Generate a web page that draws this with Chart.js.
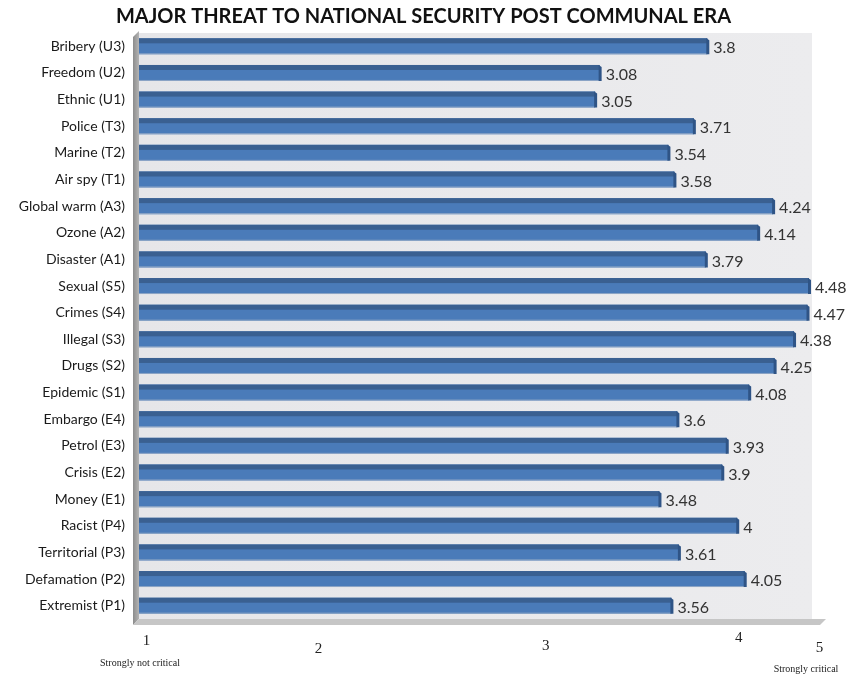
<!DOCTYPE html>
<html>
<head>
<meta charset="utf-8">
<script src="https://cdn.jsdelivr.net/npm/chart.js@4"></script>
<style>
  body { margin: 0; background: #fff; }
  #wrap { width: 847px; height: 681px; }
</style>
</head>
<body>
<div id="wrap"><canvas id="myChart" width="847" height="681"></canvas></div>
<script>
var categories = ['Bribery (U3)', 'Freedom (U2)', 'Ethnic (U1)', 'Police (T3)', 'Marine (T2)', 'Air spy (T1)',
    'Global warm (A3)', 'Ozone (A2)', 'Disaster (A1)', 'Sexual (S5)', 'Crimes (S4)', 'Illegal (S3)',
    'Drugs (S2)', 'Epidemic (S1)', 'Embargo (E4)', 'Petrol (E3)', 'Crisis (E2)', 'Money (E1)',
    'Racist (P4)', 'Territorial (P3)', 'Defamation (P2)', 'Extremist (P1)'];
var meanScores = [3.8, 3.08, 3.05, 3.71, 3.54, 3.58, 4.24, 4.14, 3.79, 4.48, 4.47, 4.38,
    4.25, 4.08, 3.6, 3.93, 3.9, 3.48, 4, 3.61, 4.05, 3.56];
var scaleLabels = ['1', '2', '3', '4', '5'];
var scaleEnds = ['Strongly not critical', 'Strongly critical'];

// where the odd hand-placed scale labels sit (in axis units) and their vertical nudges
var scaleLabelAt = [0.05, 1.2, 2.72, 4.01, 4.55];
var scaleLabelDy = [22, 30, 27, 19, 29];

var panel3d = {
    id: 'panel3d',
    beforeDatasetsDraw: function (chart) {
        var a = chart.chartArea, c = chart.ctx;
        c.save();
        var g = c.createLinearGradient(a.left, 0, a.right, 0);
        g.addColorStop(0, '#e6e6e9');
        g.addColorStop(1, '#ececee');
        c.fillStyle = g;
        c.fillRect(a.left, a.top, a.right - a.left, a.bottom - a.top);
        // left side wall
        var w = c.createLinearGradient(a.left - 6, 0, a.left, 0);
        w.addColorStop(0, '#8c8c8c');
        w.addColorStop(1, '#b4b4b4');
        c.fillStyle = w;
        c.beginPath();
        c.moveTo(a.left, a.top - 2);
        c.lineTo(a.left, a.bottom);
        c.lineTo(a.left - 6, a.bottom + 6);
        c.lineTo(a.left - 6, a.top + 4);
        c.closePath();
        c.fill();
        // floor
        c.fillStyle = '#c6c6c6';
        c.beginPath();
        c.moveTo(a.left, a.bottom);
        c.lineTo(a.right + 14, a.bottom);
        c.lineTo(a.right + 8, a.bottom + 6);
        c.lineTo(a.left - 6, a.bottom + 6);
        c.closePath();
        c.fill();
        c.restore();
    },
    afterDatasetsDraw: function (chart) {
        var c = chart.ctx;
        var meta = chart.getDatasetMeta(0);
        c.save();
        meta.data.forEach(function (bar, i) {
            var top = bar.y - bar.height / 2, bot = bar.y + bar.height / 2;
            c.fillStyle = '#3a6091';
            c.fillRect(bar.base, top, bar.x - bar.base, 5);
            c.fillStyle = '#8ea6c6';
            c.fillRect(bar.base, bot - 1, bar.x - bar.base, 1);
            // end cap
            c.fillStyle = '#2f5486';
            c.beginPath();
            c.moveTo(bar.x - 1, top);
            c.lineTo(bar.x + 2, top + 2);
            c.lineTo(bar.x + 2, bot);
            c.lineTo(bar.x - 1, bot);
            c.closePath();
            c.fill();
            // value label
            c.fillStyle = '#333';
            c.font = '16px Lato';
            c.textAlign = 'left';
            c.textBaseline = 'middle';
            c.fillText(String(meanScores[i]), bar.x + 6, bar.y + 2);
        });
        // hand-placed scale labels
        var x = chart.scales.x, a = chart.chartArea;
        c.fillStyle = '#222';
        c.font = '15px "Liberation Serif"';
        c.textAlign = 'center';
        scaleLabels.forEach(function (t, i) {
            c.fillText(t, x.getPixelForValue(scaleLabelAt[i]), a.bottom + scaleLabelDy[i]);
        });
        c.font = '10px "Liberation Serif"';
        c.fillText(scaleEnds[0], x.getPixelForValue(0) + 1, a.bottom + 44);
        c.fillText(scaleEnds[1], x.getPixelForValue(4.46), a.bottom + 50);
        c.restore();
    }
};

var ctx = document.getElementById('myChart').getContext('2d');
var myChart = new Chart(ctx, {
    type: 'bar',
    data: {
        labels: categories,
        datasets: [{
            data: meanScores,
            backgroundColor: '#4a7bb9',
            borderWidth: 0,
            barPercentage: 0.6,
            categoryPercentage: 1
        }]
    },
    options: {
        indexAxis: 'y',
        responsive: false,
        animation: false,
        layout: { padding: { left: 0, right: 0, bottom: 62 } },
        plugins: {
            legend: { display: false },
            tooltip: { enabled: false },
            title: {
                display: true,
                text: 'MAJOR THREAT TO NATIONAL SECURITY POST COMMUNAL ERA',
                color: '#111',
                font: { family: 'Lato', size: 20, weight: 'bold' },
                padding: { top: 5, bottom: 4 }
            }
        },
        scales: {
            x: {
                display: false,
                min: 0,
                max: 4.5
            },
            y: {
                grid: { display: false, drawTicks: false },
                border: { display: false },
                ticks: {
                    color: '#1a1a1a',
                    padding: 14,
                    font: { family: 'Lato', size: 14 }
                },
                afterFit: function (scale) { scale.width = 139; }
            },
            // empty right-hand gutter so the value labels have room
            gutter: {
                type: 'linear',
                position: 'right',
                grid: { display: false, drawTicks: false },
                border: { display: false },
                ticks: { display: false },
                afterFit: function (scale) { scale.width = 35; }
            }
        }
    },
    plugins: [panel3d]
});
</script>
</body>
</html>
